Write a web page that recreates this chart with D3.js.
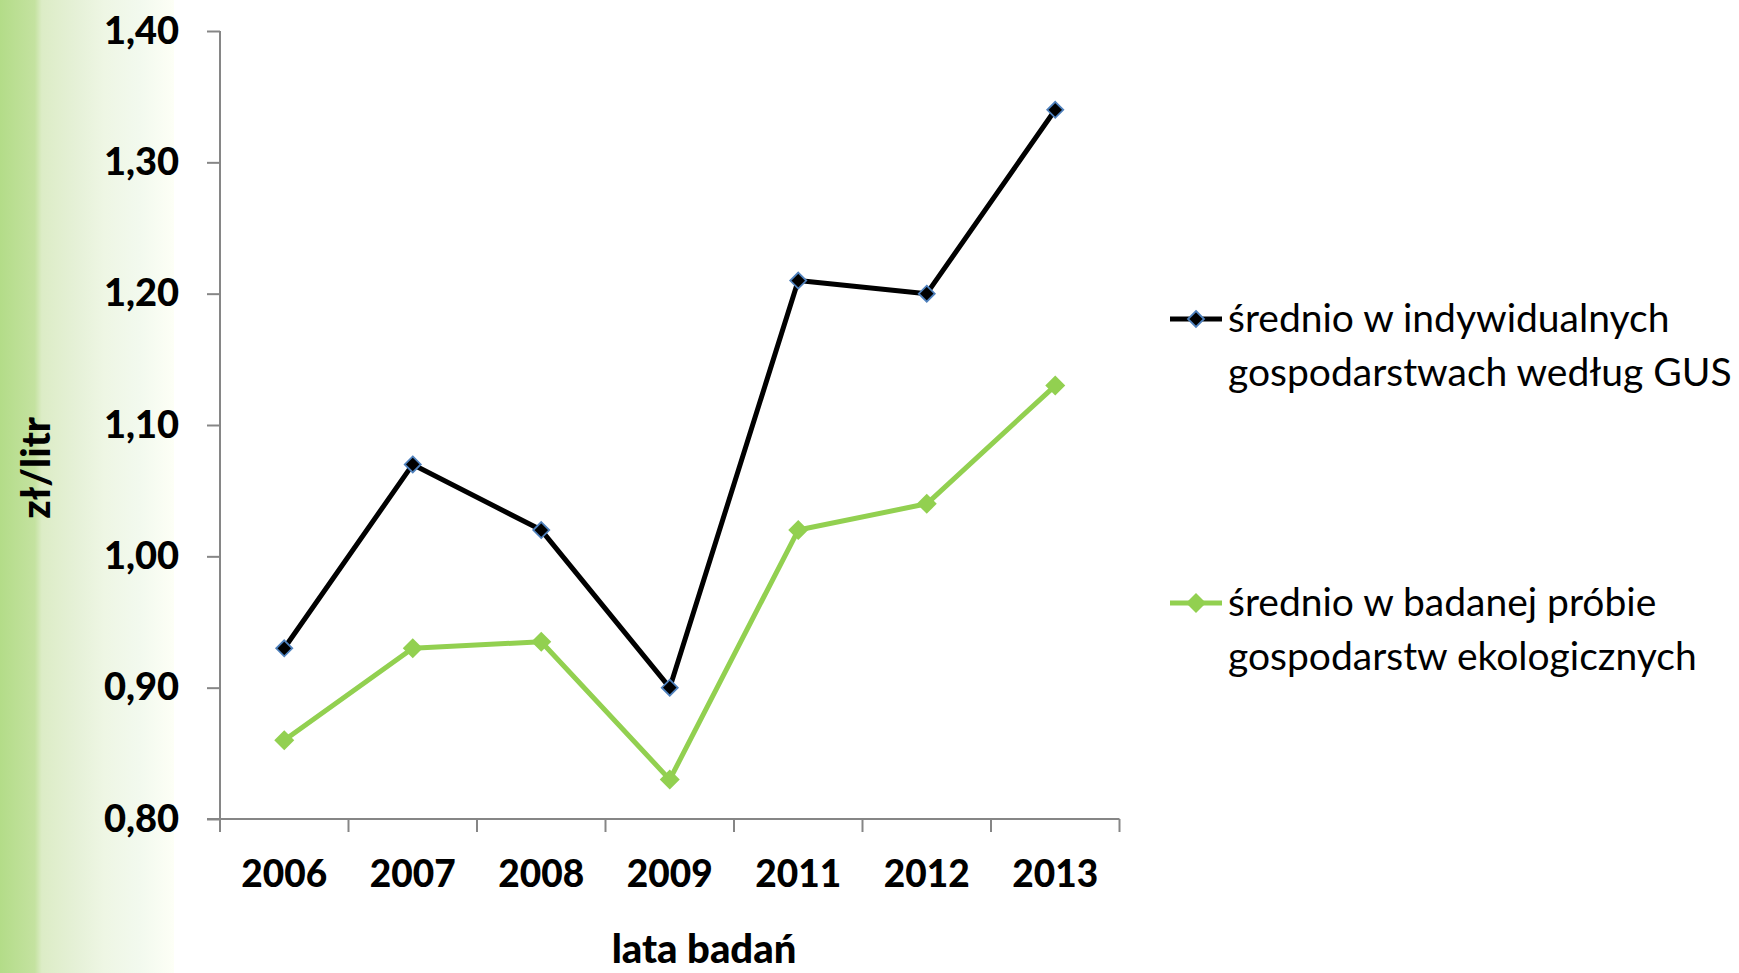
<!DOCTYPE html>
<html><head><meta charset="utf-8">
<script src="https://cdn.jsdelivr.net/npm/d3@7"></script>
<style>body{margin:0;background:#fff}svg{display:block}</style>
</head><body>
<svg id="c" width="1739" height="973"></svg>
<script>
const years = ["2006","2007","2008","2009","2011","2012","2013"];
const gusValues = [0.93, 1.07, 1.02, 0.90, 1.21, 1.20, 1.34];
const ekoValues = [0.86, 0.93, 0.935, 0.83, 1.02, 1.04, 1.13];
const yTicks = [0.80, 0.90, 1.00, 1.10, 1.20, 1.30, 1.40];
const seriesNames = [
  ["średnio w indywidualnych", "gospodarstwach według GUS"],
  ["średnio w badanej próbie", "gospodarstw ekologicznych"]
];

const svg = d3.select("#c");
const font = "Lato, 'Open Sans', sans-serif";

// left gradient band
const defs = svg.append("defs");
const lg = defs.append("linearGradient").attr("id","bg").attr("x1","0").attr("x2","1").attr("y1","0").attr("y2","0");
[[0,"#b3dc88"],[0.2,"#c4e2a0"],[0.24,"#dcecc6"],[0.45,"#e6f1d8"],[0.6,"#eef6e4"],[0.8,"#f2f9ee"],[1,"#fdfff6"]]
  .forEach(([o,c])=>lg.append("stop").attr("offset",o).attr("stop-color",c));
svg.append("rect").attr("x",0).attr("y",0).attr("width",174).attr("height",973).attr("fill","url(#bg)");

const x = d3.scaleBand().domain(years).range([220, 1119.5]);
const y = d3.scaleLinear().domain([0.8, 1.4]).range([819, 31]);

// axes
const yAxis = d3.axisLeft(y).tickValues(yTicks).tickSize(13).tickPadding(28)
  .tickFormat(d => d3.format(".2f")(d).replace(".", ","));
const gy = svg.append("g").attr("transform","translate(220,0)").call(yAxis);
gy.select(".domain").attr("stroke","#868686").attr("stroke-width",2).attr("d","M0,31V819");
gy.selectAll(".tick line").attr("stroke","#868686").attr("stroke-width",2);
gy.selectAll(".tick text").attr("font-family",font).attr("font-weight",900).attr("font-size",38).attr("fill","#000");

const xAxis = d3.axisBottom(x).tickSize(0).tickPadding(42);
const gx = svg.append("g").attr("transform","translate(0,819)").call(xAxis);
gx.select(".domain").attr("stroke","#868686").attr("stroke-width",2).attr("d","M207,0H1119.5");
gx.selectAll(".tick text").attr("font-family",font).attr("font-weight",900).attr("font-size",37).attr("fill","#000");
// tick marks at band boundaries
const bounds = years.map(d => x(d)).concat([x.range()[1]]);
svg.append("g").selectAll("line").data(bounds).join("line")
  .attr("x1",d=>d).attr("x2",d=>d).attr("y1",819).attr("y2",832)
  .attr("stroke","#868686").attr("stroke-width",2);

// axis titles
svg.append("text").attr("transform","translate(50,468) rotate(-90)").attr("text-anchor","middle")
  .attr("font-family",font).attr("font-weight",900).attr("font-size",40).text("zł/litr");
svg.append("text").attr("x",704).attr("y",963).attr("text-anchor","middle")
  .attr("font-family",font).attr("font-weight",900).attr("font-size",40).text("lata badań");

const cx = d => x(d) + x.bandwidth()/2;
const line = d3.line().x((d,i)=>cx(years[i])).y(d=>y(d));
const diamond = s => `M0,${-s}L${s},0L0,${s}L${-s},0Z`;

// green series
svg.append("path").datum(ekoValues).attr("d",line).attr("fill","none")
  .attr("stroke","#92d050").attr("stroke-width",5).attr("stroke-linejoin","round");
svg.append("g").selectAll("path").data(ekoValues).join("path")
  .attr("transform",(d,i)=>`translate(${cx(years[i])},${y(d)})`)
  .attr("d",diamond(10)).attr("fill","#92d050");

// black series
svg.append("path").datum(gusValues).attr("d",line).attr("fill","none")
  .attr("stroke","#000").attr("stroke-width",5).attr("stroke-linejoin","round");
svg.append("g").selectAll("path").data(gusValues).join("path")
  .attr("transform",(d,i)=>`translate(${cx(years[i])},${y(d)})`)
  .attr("d",diamond(8)).attr("fill","#000").attr("stroke","#4f81bd").attr("stroke-width",1.8);

// legend
const leg = [
  {y:319, color:"#000", stroke:"#4f81bd", size:8, names:seriesNames[0]},
  {y:603, color:"#92d050", stroke:null, size:10, names:seriesNames[1]}
];
leg.forEach(l => {
  const g = svg.append("g");
  g.append("line").attr("x1",1170).attr("x2",1222).attr("y1",l.y).attr("y2",l.y)
    .attr("stroke",l.color).attr("stroke-width",5);
  g.append("path").attr("transform",`translate(1196,${l.y})`).attr("d",diamond(l.size))
    .attr("fill",l.color).attr("stroke",l.stroke||"none").attr("stroke-width",1.8);
  l.names.forEach((t,i)=>{
    g.append("text").attr("x",1228).attr("y",l.y + 13 + i*54)
      .attr("font-family",font).attr("font-size",39).attr("fill","#000").text(t);
  });
});
</script>
</body></html>
